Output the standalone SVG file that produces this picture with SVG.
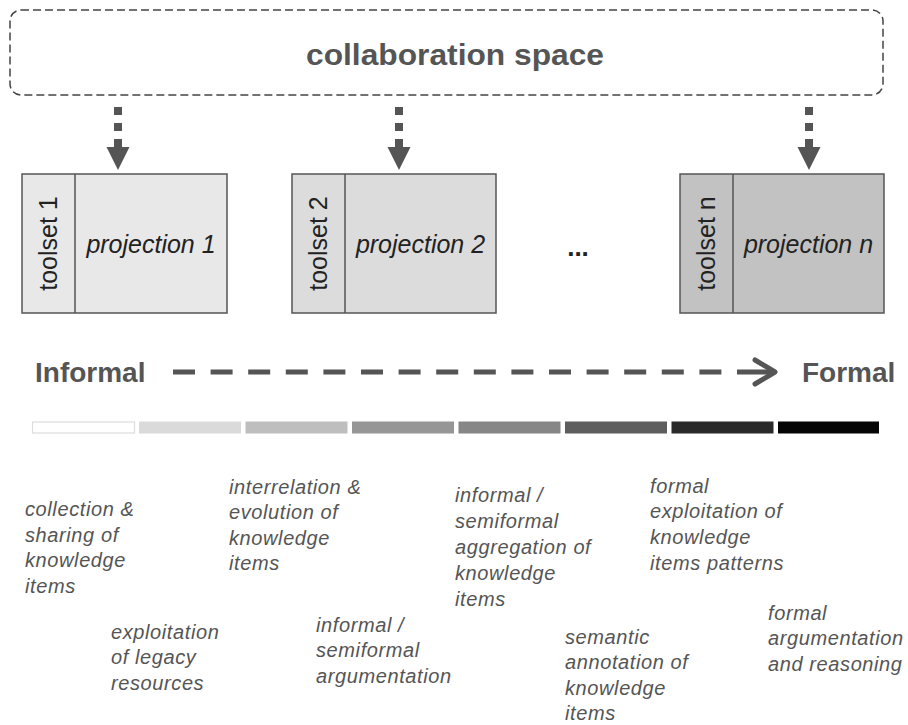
<svg xmlns="http://www.w3.org/2000/svg" width="908" height="725" viewBox="0 0 908 725">
<defs>
<style>
.lbl{font-family:"Liberation Sans",Arial,sans-serif;fill:#555;}
.it{font-family:"Liberation Sans",Arial,sans-serif;font-style:italic;font-size:20px;letter-spacing:0.6px;fill:#555;}
.box{stroke:#555;stroke-width:1.5;}
.rt{font-family:"Liberation Sans",Arial,sans-serif;font-size:25px;fill:#222;}
.pj{font-family:"Liberation Sans",Arial,sans-serif;font-size:25px;font-style:italic;fill:#222;}
.dash{stroke:#555;stroke-width:8;stroke-dasharray:8 8;}
.head{fill:#555;}
</style>
</defs>
<rect width="908" height="725" fill="#fff"/>
<g id="collaboration-space">
<rect x="10" y="10" width="873" height="85" rx="11" fill="none" stroke="#444" stroke-width="1.5" stroke-dasharray="8 4"/>
<text class="lbl" x="455" y="65" font-size="30" font-weight="bold" text-anchor="middle" textLength="298" lengthAdjust="spacingAndGlyphs">collaboration space</text>
</g>
<g id="connectors">
<line class="dash" x1="118" y1="107" x2="118" y2="147"/>
<polygon class="head" points="106.5,147 129.5,147 118,170"/>
<line class="dash" x1="399" y1="107" x2="399" y2="147"/>
<polygon class="head" points="387.5,147 410.5,147 399,170"/>
<line class="dash" x1="809" y1="107" x2="809" y2="147"/>
<polygon class="head" points="797.5,147 820.5,147 809,170"/>
</g>
<g id="projection-1">
<rect class="box" x="22" y="174" width="205" height="139" fill="#e8e8e8"/>
<line class="box" x1="75" y1="174" x2="75" y2="313"/>
<text class="rt" text-anchor="middle" transform="translate(57,243.5) rotate(-90)">toolset 1</text>
<text class="pj" x="151" y="253" text-anchor="middle">projection 1</text>
</g>
<g id="projection-2">
<rect class="box" x="292" y="174" width="204" height="139" fill="#dcdcdc"/>
<line class="box" x1="345" y1="174" x2="345" y2="313"/>
<text class="rt" text-anchor="middle" transform="translate(327,243.5) rotate(-90)">toolset 2</text>
<text class="pj" x="420.5" y="253" text-anchor="middle">projection 2</text>
</g>
<g id="ellipsis">
<text class="lbl" x="578" y="256" font-size="26" font-weight="bold" text-anchor="middle" style="fill:#222">...</text>
</g>
<g id="projection-n">
<rect class="box" x="680" y="174" width="204" height="139" fill="#c2c2c2"/>
<line class="box" x1="733" y1="174" x2="733" y2="313"/>
<text class="rt" text-anchor="middle" transform="translate(715,243.5) rotate(-90)">toolset n</text>
<text class="pj" x="808.5" y="253" text-anchor="middle">projection n</text>
</g>
<g id="scale-axis">
<text class="lbl" x="35" y="382" font-size="28" font-weight="bold">Informal</text>
<text class="lbl" x="802" y="382" font-size="28" font-weight="bold">Formal</text>
<line x1="173" y1="372" x2="722" y2="372" stroke="#555" stroke-width="5" stroke-dasharray="22 15.6"/>
<line x1="737" y1="372" x2="772" y2="372" stroke="#555" stroke-width="5"/>
<polyline points="755,360 775,372 755,384" fill="none" stroke="#555" stroke-width="5" stroke-linecap="round" stroke-linejoin="round"/>
</g>
<g id="gradient-bar">
<rect x="32.5" y="422" width="102" height="11" fill="#fff" stroke="#ddd" stroke-width="1.2"/>
<rect x="139" y="421.5" width="102" height="12" fill="#dadada"/>
<rect x="245.5" y="421.5" width="102" height="12" fill="#bebebe"/>
<rect x="352" y="421.5" width="102" height="12" fill="#969696"/>
<rect x="458.5" y="421.5" width="102" height="12" fill="#868686"/>
<rect x="565" y="421.5" width="102" height="12" fill="#5e5e5e"/>
<rect x="671.5" y="421.5" width="102" height="12" fill="#2a2a2a"/>
<rect x="778" y="421.5" width="101" height="12" fill="#050505"/>
</g>
<g id="stage-collection">
<text class="it" x="25" y="516">collection &amp;</text>
<text class="it" x="25" y="541.5">sharing of</text>
<text class="it" x="25" y="567">knowledge</text>
<text class="it" x="25" y="592.5">items</text>
</g>
<g id="stage-legacy">
<text class="it" x="111" y="638.5">exploitation</text>
<text class="it" x="111" y="664">of legacy</text>
<text class="it" x="111" y="689.5">resources</text>
</g>
<g id="stage-interrelation">
<text class="it" x="229" y="494">interrelation &amp;</text>
<text class="it" x="229" y="519">evolution of</text>
<text class="it" x="229" y="544.5">knowledge</text>
<text class="it" x="229" y="570">items</text>
</g>
<g id="stage-argumentation">
<text class="it" x="316" y="631.5">informal /</text>
<text class="it" x="316" y="657">semiformal</text>
<text class="it" x="316" y="682.5">argumentation</text>
</g>
<g id="stage-aggregation">
<text class="it" x="455" y="502">informal /</text>
<text class="it" x="455" y="528">semiformal</text>
<text class="it" x="455" y="554">aggregation of</text>
<text class="it" x="455" y="580">knowledge</text>
<text class="it" x="455" y="605.5">items</text>
</g>
<g id="stage-annotation">
<text class="it" x="565" y="643.5">semantic</text>
<text class="it" x="565" y="669">annotation of</text>
<text class="it" x="565" y="694.5">knowledge</text>
<text class="it" x="565" y="720">items</text>
</g>
<g id="stage-patterns">
<text class="it" x="650" y="493">formal</text>
<text class="it" x="650" y="518">exploitation of</text>
<text class="it" x="650" y="544">knowledge</text>
<text class="it" x="650" y="570">items patterns</text>
</g>
<g id="stage-reasoning">
<text class="it" x="768" y="619.5">formal</text>
<text class="it" x="768" y="645">argumentation</text>
<text class="it" x="768" y="671">and reasoning</text>
</g>
</svg>
